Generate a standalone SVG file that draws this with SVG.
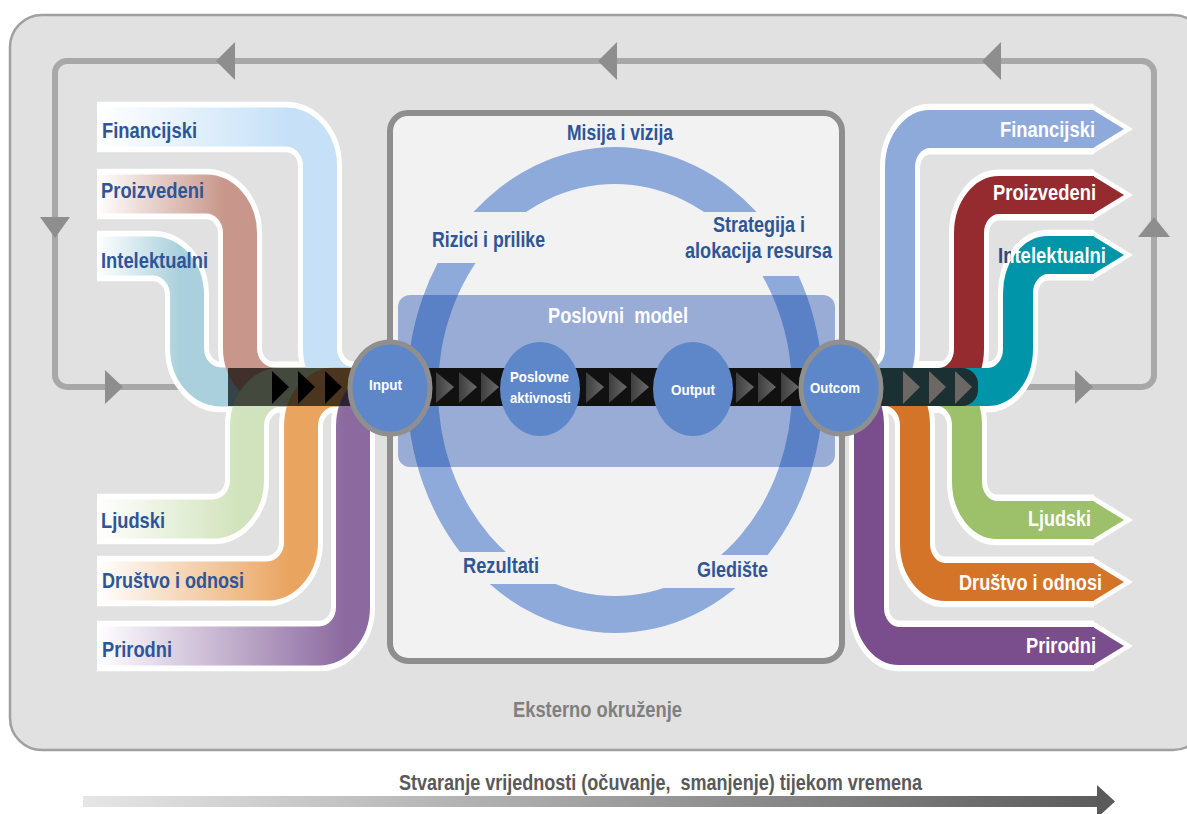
<svg xmlns="http://www.w3.org/2000/svg" width="1187" height="814" viewBox="0 0 1187 814">
<style>
.t{font-family:"Liberation Sans Narrow","Liberation Sans",Arial,sans-serif;font-weight:bold}
.lbl{font-size:22px;fill:#2e5597}
.wl{font-size:22px;fill:#ffffff}
.cl{font-size:15px;fill:#ffffff}
.pre{white-space:pre}
.loop{fill:none;stroke:#a8a8a8;stroke-width:6}
.larr{fill:#8e8e8e}
.wo{fill:none;stroke:#ffffff}
.chevC{fill:url(#gChev)}
</style>
<defs>
<linearGradient id="gFin" gradientUnits="userSpaceOnUse" x1="97" y1="0" x2="290" y2="0"><stop offset="0" stop-color="#ffffff"/><stop offset="1" stop-color="#c5e0f7"/></linearGradient>
<linearGradient id="gPro" gradientUnits="userSpaceOnUse" x1="97" y1="0" x2="225" y2="0"><stop offset="0" stop-color="#ffffff"/><stop offset="1" stop-color="#c8968a"/></linearGradient>
<linearGradient id="gInt" gradientUnits="userSpaceOnUse" x1="97" y1="0" x2="180" y2="0"><stop offset="0" stop-color="#ffffff"/><stop offset="1" stop-color="#a9d0dc"/></linearGradient>
<linearGradient id="gLj" gradientUnits="userSpaceOnUse" x1="97" y1="0" x2="240" y2="0"><stop offset="0" stop-color="#ffffff"/><stop offset="1" stop-color="#d1e3bc"/></linearGradient>
<linearGradient id="gDr" gradientUnits="userSpaceOnUse" x1="97" y1="0" x2="290" y2="0"><stop offset="0" stop-color="#ffffff"/><stop offset="1" stop-color="#e9a460"/></linearGradient>
<linearGradient id="gPri" gradientUnits="userSpaceOnUse" x1="97" y1="0" x2="345" y2="0"><stop offset="0" stop-color="#ffffff"/><stop offset="1" stop-color="#8c6aa0"/></linearGradient>
<linearGradient id="gTime" gradientUnits="userSpaceOnUse" x1="83" y1="0" x2="1115" y2="0"><stop offset="0" stop-color="#e6e6e6"/><stop offset="1" stop-color="#5a5a5a"/></linearGradient>
<linearGradient id="gChev" x1="0" y1="0" x2="1" y2="0"><stop offset="0" stop-color="#3e3e3e"/><stop offset="1" stop-color="#6a6a6a"/></linearGradient>
<linearGradient id="gIntText" gradientUnits="userSpaceOnUse" x1="998" y1="0" x2="1106" y2="0"><stop offset="0.125" stop-color="#2e4a7a"/><stop offset="0.125" stop-color="#ffffff"/></linearGradient>
<clipPath id="ringClip">
<rect x="380" y="100" width="480" height="112"/>
<rect x="380" y="263" width="235" height="289"/>
<rect x="615" y="276" width="245" height="279"/>
<rect x="380" y="584" width="235" height="80"/>
<rect x="615" y="588" width="245" height="80"/>
</clipPath>
<clipPath id="bmClip"><rect x="398" y="295" width="437" height="172" rx="12"/></clipPath>
<path id="ringShape" fill-rule="evenodd" d="M407,390 a208,243 0 1,0 416,0 a208,243 0 1,0 -416,0 Z M438,390 a177,206 0 1,0 354,0 a177,206 0 1,0 -354,0 Z"/>
</defs>

<rect x="0" y="0" width="1187" height="814" fill="#ffffff"/>

<g id="external-environment">
<rect x="10" y="15" width="1195" height="735" rx="32" fill="#e1e1e1" stroke="#a0a0a0" stroke-width="2.5"/>
<text class="t" x="513" y="717" font-size="22" fill="#7f7f7f" textLength="169" lengthAdjust="spacingAndGlyphs">Eksterno okruženje</text>
</g>

<g id="connectors">
<path class="loop" d="M182,387 H67 A12,12 0 0 1 55,375 V73 A12,12 0 0 1 67,61 H1142 A12,12 0 0 1 1154,73 V375 A12,12 0 0 1 1142,387 H1000"/>
<polygon class="larr" points="216,61 235,42 235,80"/>
<polygon class="larr" points="598,61 617,42 617,80"/>
<polygon class="larr" points="982,61 1001,42 1001,80"/>
<polygon class="larr" points="40,217 70,217 55,238"/>
<polygon class="larr" points="105,370 123,387 105,404"/>
<polygon class="larr" points="1138,237 1170,237 1154,217"/>
<polygon class="larr" points="1075,370 1093,387 1075,404"/>
</g>

<g id="business-model-box">
<rect x="390" y="113" width="452" height="548" rx="18" fill="#f2f2f2" stroke="#8e8e8e" stroke-width="6"/>
</g>

<g id="mission-ring">
<use href="#ringShape" fill="#8eaadb" clip-path="url(#ringClip)"/>
</g>

<g id="business-model">
<rect x="398" y="295" width="437" height="172" rx="12" fill="#98acd6"/>
<use href="#ringShape" fill="#5a80c5" clip-path="url(#bmClip)"/>
<text class="t pre" x="548" y="323" font-size="22" fill="#ffffff" textLength="140" lengthAdjust="spacingAndGlyphs">Poslovni  model</text>
</g>

<g id="input-capitals" transform="matrix(1 0 0 1.15 0 -58.05)">
<g class="wo" stroke-width="44">
<path d="M97,273.1 H153 A34,34 0 0 1 187,307.1 V353 A34,34 0 0 0 221,387 H380"/>
<path d="M97,219.2 H206 A34,34 0 0 1 240,253.2 V353 A34,34 0 0 0 274,387 H380"/>
<path d="M97,160.9 H286 A34,34 0 0 1 320,194.9 V353 A34,34 0 0 0 354,387 H380"/>
<path d="M97,501.8 H213 A34,34 0 0 0 247,467.8 V421 A34,34 0 0 1 281,387 H380"/>
<path d="M97,555.7 H267 A34,34 0 0 0 301,521.7 V421 A34,34 0 0 1 335,387 H380"/>
<path d="M97,612.2 H319 A34,34 0 0 0 353,578.2 V421 A34,34 0 0 1 387,387 H400"/>
</g>
<g id="in-intelektualni"><path fill="none" stroke="url(#gInt)" stroke-width="34" d="M97,273.1 H153 A34,34 0 0 1 187,307.1 V353 A34,34 0 0 0 221,387 H380"/></g>
<g id="in-proizvedeni"><path fill="none" stroke="url(#gPro)" stroke-width="34" d="M97,219.2 H206 A34,34 0 0 1 240,253.2 V353 A34,34 0 0 0 274,387 H380"/></g>
<g id="in-financijski"><path fill="none" stroke="url(#gFin)" stroke-width="34" d="M97,160.9 H286 A34,34 0 0 1 320,194.9 V353 A34,34 0 0 0 354,387 H380"/></g>
<g id="in-ljudski"><path fill="none" stroke="url(#gLj)" stroke-width="34" d="M97,501.8 H213 A34,34 0 0 0 247,467.8 V421 A34,34 0 0 1 281,387 H380"/></g>
<g id="in-drustvo"><path fill="none" stroke="url(#gDr)" stroke-width="34" d="M97,555.7 H267 A34,34 0 0 0 301,521.7 V421 A34,34 0 0 1 335,387 H380"/></g>
<g id="in-prirodni"><path fill="none" stroke="url(#gPri)" stroke-width="34" d="M97,612.2 H319 A34,34 0 0 0 353,578.2 V421 A34,34 0 0 1 387,387 H400"/></g>
</g>

<g id="output-capitals" transform="matrix(1 0 0 1.27 0 -104.49)">
<g fill="#ffffff">
<polygon points="1092,163.9 1133,183.9 1092,203.9"/>
<polygon points="1092,215.8 1133,235.8 1092,255.8"/>
<polygon points="1092,263.1 1133,283.1 1092,303.1"/>
<polygon points="1092,471.7 1133,491.7 1092,511.7"/>
<polygon points="1092,520.5 1133,540.5 1092,560.5"/>
<polygon points="1092,570.9 1133,590.9 1092,610.9"/>
</g>
<g class="wo" stroke-width="40">
<path d="M860,387 H870 A30,30 0 0 0 900,357 V213.9 A30,30 0 0 1 930,183.9 H1094"/>
<path d="M880,387 H939 A30,30 0 0 0 969,357 V265.8 A30,30 0 0 1 999,235.8 H1094"/>
<path d="M880,387 H988 A30,30 0 0 0 1018,357 V313.1 A30,30 0 0 1 1048,283.1 H1094"/>
<path d="M880,387 H937 A30,30 0 0 1 967,417 V461.7 A30,30 0 0 0 997,491.7 H1094"/>
<path d="M860,387 H885 A30,30 0 0 1 915,417 V510.5 A30,30 0 0 0 945,540.5 H1094"/>
<path d="M829,387 H839 A30,30 0 0 1 869,417 V560.9 A30,30 0 0 0 899,590.9 H1094"/>
</g>
<g id="out-financijski"><path fill="none" stroke="#8eaadb" stroke-width="30" d="M860,387 H870 A30,30 0 0 0 900,357 V213.9 A30,30 0 0 1 930,183.9 H1094"/><polygon fill="#8eaadb" points="1093,168.9 1124,183.9 1093,198.9"/></g>
<g id="out-proizvedeni"><path fill="none" stroke="#962b2f" stroke-width="30" d="M880,387 H939 A30,30 0 0 0 969,357 V265.8 A30,30 0 0 1 999,235.8 H1094"/><polygon fill="#962b2f" points="1093,220.8 1124,235.8 1093,250.8"/></g>
<g id="out-prirodni"><path fill="none" stroke="#7a4e8c" stroke-width="30" d="M829,387 H839 A30,30 0 0 1 869,417 V560.9 A30,30 0 0 0 899,590.9 H1094"/><polygon fill="#7a4e8c" points="1093,575.9 1124,590.9 1093,605.9"/></g>
<g id="out-drustvo"><path fill="none" stroke="#d47428" stroke-width="30" d="M860,387 H885 A30,30 0 0 1 915,417 V510.5 A30,30 0 0 0 945,540.5 H1094"/><polygon fill="#d47428" points="1093,525.5 1124,540.5 1093,555.5"/></g>
<g id="out-ljudski"><path fill="none" stroke="#9dc06b" stroke-width="30" d="M880,387 H937 A30,30 0 0 1 967,417 V461.7 A30,30 0 0 0 997,491.7 H1094"/><polygon fill="#9dc06b" points="1093,476.7 1124,491.7 1093,506.7"/></g>
<g id="out-intelektualni"><path fill="none" stroke="#0095a8" stroke-width="30" d="M880,387 H988 A30,30 0 0 0 1018,357 V313.1 A30,30 0 0 1 1048,283.1 H1094"/><polygon fill="#0095a8" points="1093,268.1 1124,283.1 1093,298.1"/></g>
</g>

<g id="value-chain">
<rect x="228" y="368" width="140" height="38" fill="#000000" opacity="0.68"/>
<g fill="#000000">
<polygon points="272,371 289,387 272,404"/>
<polygon points="298,371 315,387 298,404"/>
<polygon points="325,371 342,387 325,404"/>
</g>
<rect x="420" y="368" width="400" height="38" fill="#111111"/>
<g class="chevC">
<polygon points="436,372 454,387 436,403"/>
<polygon points="459,372 477,387 459,403"/>
<polygon points="481,372 499,387 481,403"/>
<polygon points="586,372 604,387 586,403"/>
<polygon points="609,372 627,387 609,403"/>
<polygon points="631,372 649,387 631,403"/>
<polygon points="736,372 754,387 736,403"/>
<polygon points="758,372 776,387 758,403"/>
<polygon points="781,372 799,387 781,403"/>
</g>
<rect x="840" y="368" width="138" height="38" rx="16" fill="#1e201e" opacity="0.86"/>
<g fill="#6d6863">
<polygon points="903,371 920,387 903,404"/>
<polygon points="929,371 946,387 929,404"/>
<polygon points="955,371 972,387 955,404"/>
</g>
</g>

<g id="node-input">
<ellipse cx="390" cy="388" rx="40" ry="46" fill="#5e87c9" stroke="#8f8f8f" stroke-width="5"/>
<text class="t cl" x="369" y="390" font-size="16" textLength="33" lengthAdjust="spacingAndGlyphs">Input</text>
</g>
<g id="node-poslovne-aktivnosti">
<ellipse cx="540" cy="389" rx="40" ry="47" fill="#5e87c9"/>
<text class="t cl" x="510" y="382" textLength="59" lengthAdjust="spacingAndGlyphs">Poslovne</text>
<text class="t cl" x="510" y="403" textLength="61" lengthAdjust="spacingAndGlyphs">aktivnosti</text>
</g>
<g id="node-output">
<ellipse cx="693" cy="389" rx="40" ry="47" fill="#5e87c9"/>
<text class="t cl" x="671" y="395" font-size="16" textLength="44" lengthAdjust="spacingAndGlyphs">Output</text>
</g>
<g id="node-outcom">
<ellipse cx="841" cy="388" rx="40" ry="46" fill="#5e87c9" stroke="#8f8f8f" stroke-width="5"/>
<text class="t cl" x="810" y="393" font-size="16" textLength="50" lengthAdjust="spacingAndGlyphs">Outcom</text>
</g>

<g id="ring-labels">
<text class="t lbl" x="567" y="140" textLength="106" lengthAdjust="spacingAndGlyphs">Misija i vizija</text>
<text class="t lbl" x="432" y="247" textLength="113" lengthAdjust="spacingAndGlyphs">Rizici i prilike</text>
<text class="t lbl" x="713" y="232" textLength="92" lengthAdjust="spacingAndGlyphs">Strategija i</text>
<text class="t lbl" x="685" y="258" textLength="147" lengthAdjust="spacingAndGlyphs">alokacija resursa</text>
<text class="t lbl" x="463" y="573" textLength="76" lengthAdjust="spacingAndGlyphs">Rezultati</text>
<text class="t lbl" x="697" y="577" textLength="71" lengthAdjust="spacingAndGlyphs">Gledište</text>
</g>

<g id="input-labels">
<text class="t lbl" x="102" y="138" textLength="95" lengthAdjust="spacingAndGlyphs">Financijski</text>
<text class="t lbl" x="101" y="198" textLength="103" lengthAdjust="spacingAndGlyphs">Proizvedeni</text>
<text class="t lbl" x="101" y="268" textLength="107" lengthAdjust="spacingAndGlyphs">Intelektualni</text>
<text class="t lbl" x="101" y="528" textLength="64" lengthAdjust="spacingAndGlyphs">Ljudski</text>
<text class="t lbl" x="102" y="588" textLength="142" lengthAdjust="spacingAndGlyphs">Društvo i odnosi</text>
<text class="t lbl" x="102" y="657" textLength="70" lengthAdjust="spacingAndGlyphs">Prirodni</text>
</g>

<g id="output-labels">
<text class="t wl" x="1000" y="137" textLength="95" lengthAdjust="spacingAndGlyphs">Financijski</text>
<text class="t wl" x="993" y="200" textLength="103" lengthAdjust="spacingAndGlyphs">Proizvedeni</text>
<text class="t wl" x="998" y="263" style="fill:url(#gIntText)" textLength="108" lengthAdjust="spacingAndGlyphs">Intelektualni</text>
<text class="t wl" x="1028" y="526" textLength="63" lengthAdjust="spacingAndGlyphs">Ljudski</text>
<text class="t wl" x="959" y="590" textLength="143" lengthAdjust="spacingAndGlyphs">Društvo i odnosi</text>
<text class="t wl" x="1026" y="653" textLength="70" lengthAdjust="spacingAndGlyphs">Prirodni</text>
</g>

<g id="time-arrow">
<rect x="83" y="796" width="1016" height="11" fill="url(#gTime)"/>
<polygon points="1097,785 1115,801.5 1097,818" fill="#5a5a5a"/>
<text class="t pre" x="399" y="790" font-size="22" fill="#595959" textLength="523" lengthAdjust="spacingAndGlyphs">Stvaranje vrijednosti (očuvanje,  smanjenje) tijekom vremena</text>
</g>
</svg>
